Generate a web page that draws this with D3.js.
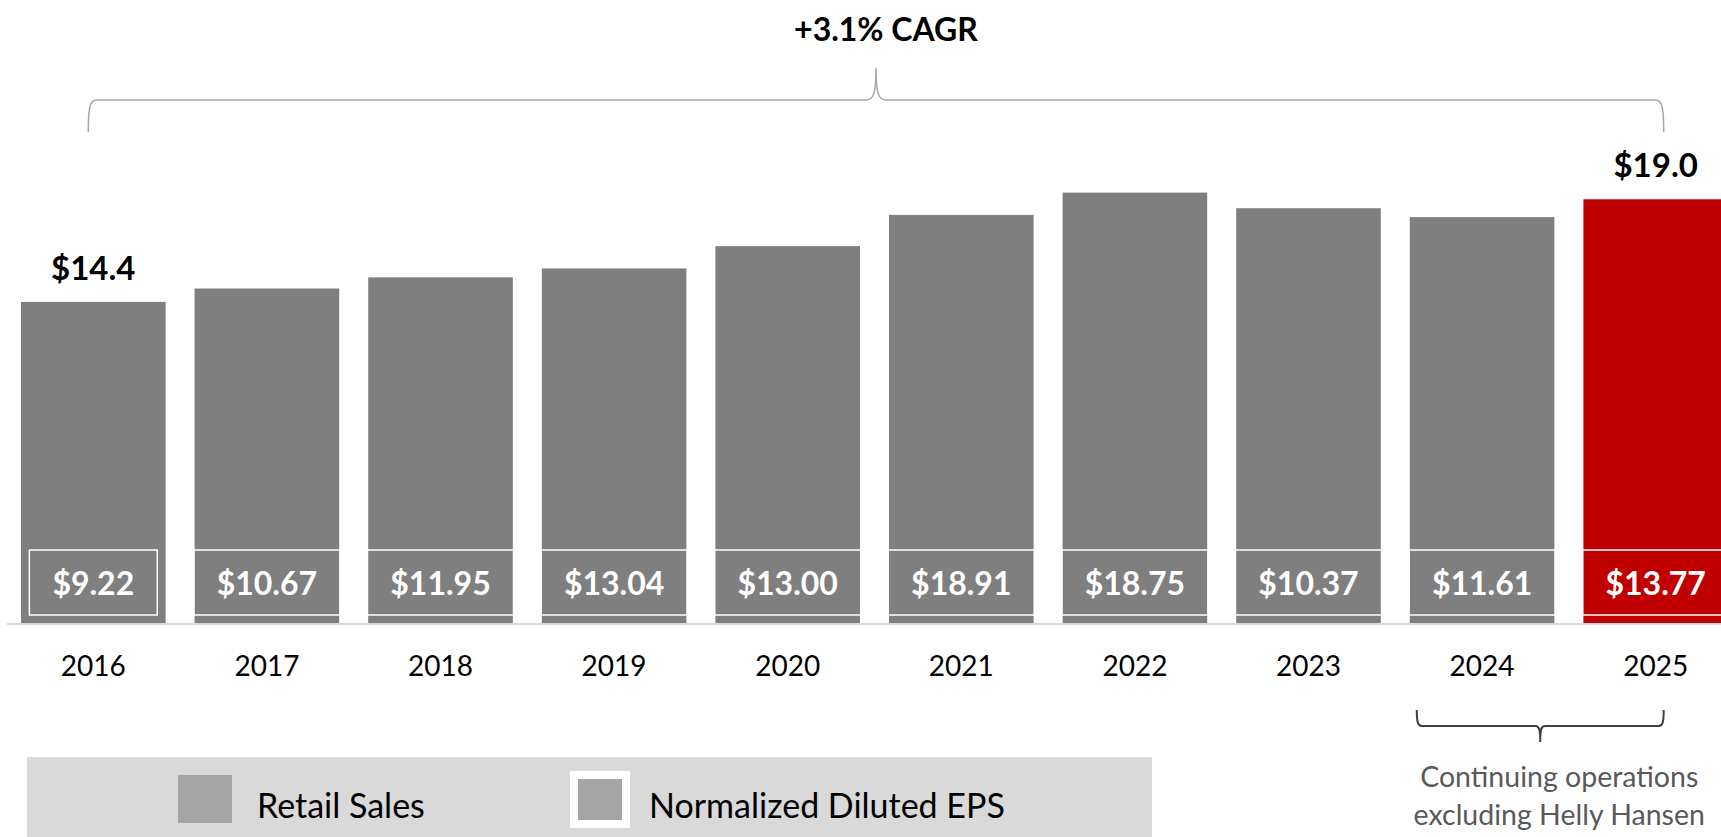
<!DOCTYPE html>
<html>
<head>
<meta charset="utf-8">
<script src="https://cdn.jsdelivr.net/npm/d3@7"></script>
<style>
    body { margin: 0; background: #fff; }
    svg { font-family: Lato, "Open Sans", sans-serif; display: block; }
</style>
</head>
<body>
<div id="chart"></div>
<script>
    // data
    var years = ["2016", "2017", "2018", "2019", "2020", "2021", "2022", "2023", "2024", "2025"];
    var retailSales = [14.4, 15.0, 15.5, 15.9, 16.9, 18.3, 19.3, 18.6, 18.2, 19.0];   // $B
    var normalizedEps = [9.22, 10.67, 11.95, 13.04, 13.00, 18.91, 18.75, 10.37, 11.61, 13.77];
    var salesLabelYears = ["2016", "2025"];
    var highlightYear = "2025";
    var cagrText = "+3.1% CAGR";
    var noteYears = ["2024", "2025"];
    var noteLines = ["Continuing operations", "excluding Helly Hansen"];
    var legendItems = ["Retail Sales", "Normalized Diluted EPS"];

    var width = 1721;
    var height = 837;
    var baseY = 623;

    var grey = "#7f7f7f";
    var red = "#c00000";

    var data = years.map(function(y, i) {
        return { year: y, sales: retailSales[i], eps: normalizedEps[i] };
    });

    var svg = d3.select("#chart").append("svg")
        .attr("width", width)
        .attr("height", height);

    /* Scales */
    var x = d3.scaleBand()
        .domain(years)
        .range([21, 1728])
        .paddingInner(0.167)
        .paddingOuter(0);

    var y = d3.scaleLinear()
        .domain([0, 20])
        .range([baseY, baseY - 446]);

    var bw = x.bandwidth();
    var cx = function(yr) { return x(yr) + bw / 2; };

    /* Bars */
    svg.append("g").selectAll("rect")
        .data(data).enter()
        .append("rect")
        .attr("x", d => x(d.year))
        .attr("y", d => y(d.sales))
        .attr("width", bw)
        .attr("height", d => y(0) - y(d.sales))
        .attr("fill", d => d.year === highlightYear ? red : grey);

    // baseline
    svg.append("line")
        .attr("x1", 7).attr("x2", width)
        .attr("y1", baseY + 1).attr("y2", baseY + 1)
        .attr("stroke", "#d9d9d9")
        .attr("stroke-width", 2);

    /* EPS labels in boxes near the bottom of each bar */
    var epsG = svg.append("g").selectAll("g")
        .data(data).enter()
        .append("g");

    epsG.append("text")
        .attr("x", d => cx(d.year))
        .attr("y", 595)
        .attr("text-anchor", "middle")
        .attr("fill", "#fff")
        .style("font-size", "32px")
        .style("font-weight", "bold")
        .text(d => "$" + d.eps.toFixed(2));

    epsG.each(function() {
        var g = d3.select(this);
        var t = g.select("text");
        var w = t.node().getComputedTextLength() + 46;
        var c = +t.attr("x");
        g.insert("rect", "text")
            .attr("x", c - w / 2)
            .attr("y", 550)
            .attr("width", w)
            .attr("height", 65)
            .attr("fill", "none")
            .attr("stroke", "#fff")
            .attr("stroke-width", 1.5);
    });

    /* Retail sales labels on first and last bars */
    svg.append("g").selectAll("text")
        .data(data.filter(d => salesLabelYears.indexOf(d.year) >= 0)).enter()
        .append("text")
        .attr("x", d => cx(d.year))
        .attr("y", d => y(d.sales) - 22)
        .attr("text-anchor", "middle")
        .attr("fill", "#000")
        .style("font-size", "33px")
        .style("font-weight", "bold")
        .text(d => "$" + d.sales.toFixed(1));

    /* Year axis */
    var xAxis = d3.axisBottom(x).tickSize(0).tickPadding(0);
    var axisG = svg.append("g")
        .attr("transform", "translate(0," + baseY + ")")
        .call(xAxis);
    axisG.select(".domain").remove();
    axisG.selectAll("text")
        .attr("y", 53)
        .attr("dy", null)
        .attr("fill", "#000")
        .style("font-family", "Lato, 'Open Sans', sans-serif")
        .style("font-size", "28px");

    /* CAGR brace */
    var bl = cx(years[0]) - 5;
    var br = cx(years[years.length - 1]) + 8;
    var bm = (bl + br) / 2;
    var by = 100;
    svg.append("path")
        .attr("d", "M" + bl + ",132 C" + bl + ",110 " + (bl + 1) + "," + by + " " + (bl + 8) + "," + by +
            " L" + (bm - 10) + "," + by +
            " C" + (bm - 3) + "," + by + " " + bm + "," + (by - 5) + " " + bm + ",68" +
            " C" + bm + "," + (by - 5) + " " + (bm + 3) + "," + by + " " + (bm + 10) + "," + by +
            " L" + (br - 8) + "," + by +
            " C" + (br - 1) + "," + by + " " + br + ",110 " + br + ",132")
        .attr("fill", "none")
        .attr("stroke", "#a6a6a6")
        .attr("stroke-width", 1.5);

    svg.append("text")
        .attr("x", bm + 10)
        .attr("y", 41)
        .attr("text-anchor", "middle")
        .attr("fill", "#000")
        .style("font-size", "32px")
        .style("font-weight", "bold")
        .text(cagrText);

    /* Continuing operations bracket */
    var nl = x(noteYears[0]) + 7;
    var nr = cx(noteYears[1]) + 8;
    var nm = (nl + nr) / 2;
    var ny = 726;
    svg.append("path")
        .attr("d", "M" + nl + ",710 C" + nl + ",722 " + (nl + 1) + "," + ny + " " + (nl + 5) + "," + ny +
            " L" + (nm - 5) + "," + ny +
            " C" + (nm - 1) + "," + ny + " " + nm + "," + (ny + 3) + " " + nm + ",742" +
            " C" + nm + "," + (ny + 3) + " " + (nm + 1) + "," + ny + " " + (nm + 5) + "," + ny +
            " L" + (nr - 5) + "," + ny +
            " C" + (nr - 1) + "," + ny + " " + nr + ",722 " + nr + ",710")
        .attr("fill", "none")
        .attr("stroke", "#404040")
        .attr("stroke-width", 2);

    svg.append("g").selectAll("text")
        .data(noteLines).enter()
        .append("text")
        .attr("x", nm + 19)
        .attr("y", (d, i) => 787 + i * 38)
        .attr("text-anchor", "middle")
        .attr("fill", "#595959")
        .style("font-size", "28.5px")
        .text(d => d);

    /* Legend */
    var legend = svg.append("g");
    legend.append("rect")
        .attr("x", 27).attr("y", 757)
        .attr("width", 1125).attr("height", 80)
        .attr("fill", "#d9d9d9");

    legend.append("rect")
        .attr("x", 178).attr("y", 775)
        .attr("width", 54).attr("height", 48)
        .attr("fill", "#a5a5a5");
    legend.append("rect")
        .attr("x", 570).attr("y", 771)
        .attr("width", 60).attr("height", 57)
        .attr("fill", "#fff");
    legend.append("rect")
        .attr("x", 578).attr("y", 779)
        .attr("width", 44).attr("height", 41)
        .attr("fill", "#a5a5a5");

    legend.selectAll(".legend-text")
        .data(legendItems).enter()
        .append("text")
        .attr("class", "legend-text")
        .attr("x", (d, i) => i === 0 ? 257 : 649)
        .attr("y", 818)
        .attr("fill", "#000")
        .style("font-size", "34px")
        .text(d => d);
</script>
</body>
</html>
